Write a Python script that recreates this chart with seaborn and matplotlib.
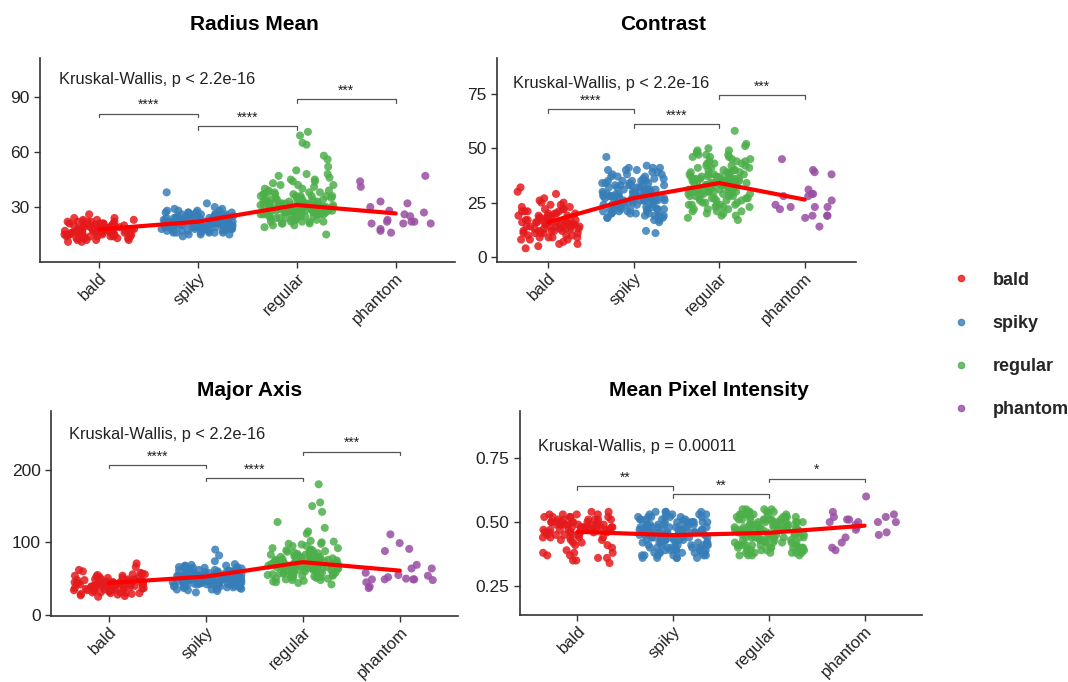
import numpy as np
import pandas as pd
import matplotlib
matplotlib.use("Agg")
import matplotlib.pyplot as plt
from matplotlib.lines import Line2D
import seaborn as sns

groups = ["bald", "spiky", "regular", "phantom"]
colors = ["#E41A1C", "#377EB8", "#4DAF4A", "#984EA3"]

# ---- Radius Mean ----
bald_radius = [17, 15, 19, 21, 13, 18, 16, 22, 14, 20, 17, 12, 19, 23, 16, 18, 15, 21, 11, 17,
               20, 14, 18, 24, 16, 19, 13, 17, 22, 15, 18, 20, 12, 16, 19, 21, 14, 17, 26, 15,
               18, 23, 16, 13, 20, 17, 19, 14, 22, 16, 18, 12, 21, 15, 17, 20, 24, 13, 19, 16,
               14, 19, 22, 17, 12, 20, 15, 18, 23, 13, 21, 16, 19, 14, 18, 22, 11, 17, 20, 15,
               16, 21, 13, 18, 19, 15, 22, 17, 14, 20]
spiky_radius = [21, 19, 23, 25, 17, 22, 20, 27, 18, 24, 21, 16, 26, 22, 19, 23, 20, 28, 15, 21,
                24, 18, 22, 29, 20, 23, 17, 21, 25, 19, 22, 26, 16, 20, 23, 24, 18, 21, 38, 19,
                22, 27, 20, 17, 24, 21, 23, 18, 25, 20, 22, 14, 26, 19, 21, 24, 30, 17, 23, 20,
                22, 19, 25, 21, 18, 23, 20, 27, 16, 22, 24, 19, 21, 26, 20, 23, 18, 22, 25, 21,
                20, 24, 17, 22, 26, 19, 21, 15, 23, 28, 18, 25, 21, 20, 24, 16, 22, 27, 19, 23,
                21, 18, 25, 20, 29, 17, 23, 22, 26, 19, 24, 21, 16, 28, 20, 22, 25, 18, 32, 23,
                19, 22, 26, 21, 17, 24, 20, 27, 18, 23, 25, 16, 21, 28, 19, 22, 24, 20, 26, 15]
regular_radius = [30, 27, 34, 38, 24, 31, 28, 42, 22, 36, 29, 25, 33, 45, 26, 32, 28, 40, 21, 30,
                  35, 23, 31, 48, 27, 34, 20, 29, 37, 26, 32, 44, 22, 28, 33, 39, 25, 30, 52, 24,
                  31, 36, 27, 19, 34, 29, 41, 23, 35, 28, 32, 15, 38, 26, 30, 47, 56, 22, 33, 29,
                  31, 27, 43, 30, 25, 34, 28, 50, 21, 32, 36, 26, 64, 65, 71, 69, 29, 58, 37, 31,
                  29, 33, 26, 38, 24, 31, 35, 28, 42, 22, 30, 36, 27, 33, 45, 25, 32, 29, 39, 23,
                  34, 28, 31, 37, 21, 30, 26, 44, 33, 27, 36, 29, 24, 40, 31, 35, 22, 28, 46, 32,
                  27, 31, 38, 25, 33, 30, 20, 36, 28, 42, 26, 34, 29, 48, 23, 31, 37, 27, 32, 30]
phantom_radius = [41, 32, 21, 21, 26, 25, 18, 17, 22, 23, 30, 47, 44, 27, 33, 22, 21, 16, 22, 28]
line_radius = [17.8, 22, 31.1, 26.5]

# ---- Contrast ----
bald_contrast = [15, 12, 18, 21, 9, 16, 13, 24, 8, 19, 14, 6, 17, 22, 11, 15, 10, 26, 7, 14,
                 20, 12, 16, 29, 13, 18, 5, 15, 23, 11, 17, 21, 9, 14, 19, 25, 12, 16, 32, 10,
                 15, 20, 13, 6, 18, 14, 22, 9, 17, 13, 16, 4, 24, 11, 15, 19, 30, 8, 17, 14,
                 13, 18, 22, 11, 16, 20, 8, 15, 25, 12, 17, 14, 21, 10, 19, 16, 27, 13, 18, 15,
                 11, 20, 14, 17, 23, 9, 16, 19, 12, 21]
spiky_contrast = [27, 23, 31, 35, 19, 28, 25, 38, 21, 33, 26, 17, 30, 41, 22, 29, 24, 36, 18, 27,
                  32, 20, 28, 40, 25, 31, 16, 26, 34, 22, 29, 37, 19, 24, 30, 42, 21, 27, 46, 23,
                  28, 33, 25, 12, 31, 26, 39, 20, 32, 24, 29, 11, 35, 22, 27, 38, 41, 19, 30, 26,
                  28, 23, 34, 27, 21, 31, 25, 37, 18, 29, 33, 22, 27, 40, 24, 30, 20, 28, 35, 26,
                  26, 30, 22, 35, 28, 19, 33, 25, 39, 24, 31, 27, 20, 36, 29, 23, 32, 26, 41, 21,
                  28, 24, 34, 30, 18, 27, 37, 25, 31, 22, 29, 40, 26, 33, 20, 28, 35, 23, 30, 27,
                  25, 32, 21, 29, 36, 26, 19, 31, 24, 38, 27, 23, 34, 28, 17, 30, 25, 33, 22, 29]
regular_contrast = [33, 29, 37, 42, 24, 34, 31, 46, 22, 39, 32, 20, 36, 48, 27, 35, 30, 44, 21, 33,
                    40, 25, 34, 50, 28, 38, 19, 32, 43, 26, 35, 47, 23, 30, 37, 45, 24, 33, 52, 27,
                    34, 41, 29, 18, 38, 31, 49, 22, 36, 30, 35, 17, 44, 26, 33, 46, 58, 23, 37, 32,
                    34, 28, 42, 33, 25, 39, 31, 51, 21, 35, 40, 27, 33, 47, 29, 38, 24, 36, 43, 32,
                    32, 37, 28, 43, 34, 24, 39, 31, 47, 29, 36, 33, 22, 41, 35, 27, 38, 30, 49, 26,
                    34, 29, 40, 36, 21, 33, 45, 30, 37, 25, 35, 48, 31, 39, 23, 34, 42, 28, 36, 32,
                    30, 38, 24, 35, 44, 31, 20, 37, 29, 46, 33, 26, 41, 34, 19, 36, 30, 40, 27, 35]
phantom_contrast = [45, 38, 28, 23, 19, 19, 22, 31, 29, 26, 24, 18, 14, 23, 23, 39, 40, 29, 28, 19]
line_contrast = [16, 27.1, 34, 26.4]

# ---- Major Axis ----
bald_major = [42, 37, 46, 51, 31, 43, 39, 55, 29, 48, 41, 27, 45, 53, 35, 44, 38, 58, 30, 42,
              49, 34, 43, 62, 38, 47, 26, 41, 52, 36, 44, 50, 32, 39, 46, 56, 33, 42, 71, 35,
              43, 48, 38, 28, 46, 40, 54, 31, 45, 39, 44, 25, 57, 36, 42, 49, 66, 30, 45, 40,
              40, 47, 33, 44, 52, 37, 42, 29, 49, 38, 45, 35, 54, 41, 31, 46, 39, 60, 36, 43,
              34, 48, 41, 37, 51, 30, 44, 39, 56, 42]
spiky_major = [52, 47, 57, 62, 41, 53, 49, 67, 39, 59, 51, 36, 55, 65, 44, 54, 48, 70, 38, 52,
               60, 42, 53, 68, 47, 57, 34, 51, 63, 45, 54, 66, 40, 49, 56, 64, 43, 52, 90, 46,
               53, 58, 48, 31, 57, 50, 66, 41, 55, 49, 54, 35, 62, 45, 52, 61, 82, 39, 56, 50,
               53, 47, 60, 52, 43, 57, 49, 74, 37, 54, 58, 45, 51, 65, 48, 56, 42, 53, 61, 50,
               51, 56, 44, 60, 49, 38, 58, 47, 64, 42, 54, 50, 36, 61, 53, 45, 57, 48, 68, 40,
               53, 46, 62, 55, 37, 51, 65, 44, 57, 41, 52, 69, 48, 59, 39, 54, 63, 46, 56, 50,
               49, 58, 41, 53, 66, 47, 35, 55, 45, 61, 52, 43, 59, 50, 33, 56, 48, 62, 42, 54]
regular_major = [70, 63, 76, 84, 55, 71, 66, 92, 52, 80, 68, 48, 74, 97, 59, 72, 64, 88, 50, 70,
                 82, 56, 71, 102, 62, 77, 46, 68, 86, 58, 73, 95, 53, 65, 75, 90, 55, 70, 128, 60,
                 72, 81, 64, 44, 78, 67, 100, 52, 76, 65, 73, 42, 89, 58, 70, 98, 120, 51, 75, 67,
                 71, 62, 85, 70, 57, 79, 66, 115, 49, 73, 83, 60, 155, 142, 180, 150, 69, 112, 87, 71,
                 69, 77, 58, 85, 66, 53, 80, 63, 95, 56, 73, 68, 48, 88, 71, 60, 78, 65, 101, 54,
                 72, 62, 83, 75, 50, 68, 92, 61, 79, 55, 70, 98, 64, 81, 52, 74, 87, 59, 76, 67,
                 66, 79, 54, 73, 90, 63, 47, 77, 60, 86, 69, 57, 84, 71, 45, 76, 65, 82, 58, 74]
phantom_major = [91, 88, 99, 111, 49, 54, 39, 55, 69, 49, 52, 64, 49, 50, 49, 64, 37, 48, 58, 45]
line_major = [44, 52.9, 72.7, 61]

# ---- Mean Pixel Intensity ----
bald_mpi = [0.47, 0.45, 0.49, 0.51, 0.42, 0.48, 0.46, 0.53, 0.40, 0.50, 0.47, 0.38, 0.49, 0.52, 0.44,
            0.48, 0.46, 0.54, 0.36, 0.47, 0.50, 0.43, 0.48, 0.51, 0.45, 0.49, 0.35, 0.47, 0.52, 0.44,
            0.48, 0.50, 0.39, 0.46, 0.49, 0.53, 0.41, 0.47, 0.54, 0.43, 0.48, 0.50, 0.45, 0.37, 0.49,
            0.46, 0.52, 0.38, 0.48, 0.46, 0.49, 0.34, 0.51, 0.44, 0.47, 0.50, 0.53, 0.36, 0.48, 0.46,
            0.48, 0.51, 0.44, 0.49, 0.53, 0.46, 0.50, 0.42, 0.47, 0.52, 0.45, 0.49, 0.38, 0.48, 0.51,
            0.43, 0.47, 0.50, 0.35, 0.46, 0.49, 0.44, 0.52, 0.47, 0.41, 0.50, 0.48, 0.37, 0.51, 0.45]
spiky_mpi = [0.45, 0.42, 0.48, 0.51, 0.39, 0.46, 0.43, 0.53, 0.37, 0.49, 0.44, 0.36, 0.47, 0.52, 0.40,
             0.46, 0.42, 0.54, 0.38, 0.45, 0.50, 0.39, 0.46, 0.52, 0.41, 0.48, 0.36, 0.44, 0.51, 0.40,
             0.47, 0.50, 0.37, 0.43, 0.48, 0.53, 0.38, 0.45, 0.54, 0.41, 0.46, 0.49, 0.42, 0.36, 0.48,
             0.44, 0.52, 0.38, 0.47, 0.43, 0.46, 0.37, 0.50, 0.40, 0.45, 0.49, 0.53, 0.39, 0.47, 0.44,
             0.46, 0.41, 0.50, 0.45, 0.39, 0.48, 0.43, 0.52, 0.37, 0.46, 0.49, 0.40, 0.44, 0.51, 0.42,
             0.47, 0.38, 0.45, 0.50, 0.43, 0.44, 0.49, 0.40, 0.47, 0.52, 0.38, 0.46, 0.42, 0.51, 0.37,
             0.45, 0.48, 0.41, 0.53, 0.43, 0.39, 0.50, 0.44, 0.54, 0.36, 0.47, 0.41, 0.50, 0.45, 0.38,
             0.48, 0.43, 0.52, 0.40, 0.46, 0.49, 0.37, 0.44, 0.51, 0.42, 0.47, 0.39, 0.53, 0.45, 0.41,
             0.43, 0.48, 0.39, 0.46, 0.51, 0.42, 0.49, 0.36, 0.45, 0.50, 0.40, 0.47, 0.44, 0.52, 0.38,
             0.46, 0.49, 0.41, 0.54, 0.43]
regular_mpi = [0.46, 0.43, 0.49, 0.52, 0.40, 0.47, 0.44, 0.54, 0.38, 0.50, 0.45, 0.37, 0.48, 0.53, 0.41,
               0.47, 0.43, 0.55, 0.39, 0.46, 0.51, 0.40, 0.47, 0.53, 0.42, 0.49, 0.38, 0.45, 0.52, 0.41,
               0.48, 0.51, 0.38, 0.44, 0.49, 0.54, 0.39, 0.46, 0.55, 0.42, 0.47, 0.50, 0.43, 0.37, 0.49,
               0.45, 0.53, 0.39, 0.48, 0.44, 0.47, 0.38, 0.51, 0.41, 0.46, 0.50, 0.54, 0.40, 0.48, 0.45,
               0.47, 0.42, 0.51, 0.46, 0.40, 0.49, 0.44, 0.53, 0.38, 0.47, 0.50, 0.41, 0.45, 0.52, 0.43,
               0.48, 0.39, 0.46, 0.51, 0.44, 0.45, 0.50, 0.41, 0.48, 0.53, 0.39, 0.47, 0.43, 0.52, 0.38,
               0.46, 0.49, 0.42, 0.54, 0.44, 0.40, 0.51, 0.45, 0.55, 0.37, 0.48, 0.42, 0.51, 0.46, 0.39,
               0.49, 0.44, 0.53, 0.41, 0.47, 0.50, 0.38, 0.45, 0.52, 0.43, 0.48, 0.40, 0.54, 0.46, 0.42,
               0.44, 0.49, 0.40, 0.47, 0.52, 0.43, 0.50, 0.37, 0.46, 0.51, 0.41, 0.48, 0.45, 0.53, 0.39,
               0.47, 0.50, 0.42, 0.55, 0.44]
phantom_mpi = [0.60, 0.52, 0.50, 0.50, 0.51, 0.48, 0.50, 0.52, 0.53, 0.54, 0.46, 0.47, 0.45, 0.44, 0.42,
               0.39, 0.50, 0.49, 0.40, 0.51]
line_mpi = [0.462, 0.449, 0.458, 0.486]

panels = [
    dict(title="Radius Mean", values=[bald_radius, spiky_radius, regular_radius, phantom_radius],
         line=line_radius, kw="Kruskal-Wallis, p < 2.2e-16", kw_y=99.8,
         brackets=[81, 74, 89], stars=["****", "****", "***"],
         yticks=[30, 60, 90], yticklabels=["30", "60", "90"], ylim=(0, 111.3)),
    dict(title="Contrast", values=[bald_contrast, spiky_contrast, regular_contrast, phantom_contrast],
         line=line_contrast, kw="Kruskal-Wallis, p < 2.2e-16", kw_y=79.8,
         brackets=[68, 61, 74.5], stars=["****", "****", "***"],
         yticks=[0, 25, 50, 75], yticklabels=["0", "25", "50", "75"], ylim=(-2.3, 91.5)),
    dict(title="Major Axis", values=[bald_major, spiky_major, regular_major, phantom_major],
         line=line_major, kw="Kruskal-Wallis, p < 2.2e-16", kw_y=248,
         brackets=[207, 189, 225], stars=["****", "****", "***"],
         yticks=[0, 100, 200], yticklabels=["0", "100", "200"], ylim=(-1.5, 281)),
    dict(title="Mean Pixel Intensity", values=[bald_mpi, spiky_mpi, regular_mpi, phantom_mpi],
         line=line_mpi, kw="Kruskal-Wallis, p = 0.00011", kw_y=0.797,
         brackets=[0.64, 0.61, 0.67], stars=["**", "**", "*"],
         yticks=[0.25, 0.50, 0.75], yticklabels=["0.25", "0.50", "0.75"], ylim=(0.137, 0.934)),
]

# pixel boxes (left, top, right, bottom) and title centres
W, H = 1068, 682
boxes = [(40, 58, 455, 262), (497, 58, 856, 262), (51, 411, 458, 616), (520, 411, 922, 615)]
title_pos = [(254, 24), (663, 24), (250, 390), (709, 390)]

sns.set_theme(style="ticks")
plt.rcParams["font.family"] = ["Liberation Sans", "DejaVu Sans"]
np.random.seed(3)

fig = plt.figure(figsize=(W / 100, H / 100), dpi=100)
fig.patch.set_facecolor("white")

for p, (l, t, r, b), (tx, ty) in zip(panels, boxes, title_pos):
    ax = fig.add_axes([l / W, 1 - b / H, (r - l) / W, (b - t) / H])
    df = pd.DataFrame({
        "group": np.concatenate([[g] * len(v) for g, v in zip(groups, p["values"])]),
        "value": np.concatenate(p["values"]),
    })
    sns.stripplot(data=df, x="group", y="value", hue="group", order=groups, hue_order=groups,
                  palette=colors, jitter=0.37, size=5.8, alpha=0.85, linewidth=0,
                  legend=False, ax=ax, zorder=1)
    sns.pointplot(x=groups, y=p["line"], order=groups, color="#FF0000", errorbar=None,
                  markers="", linewidth=3, ax=ax)

    yr = p["ylim"][1] - p["ylim"][0]
    pairs = [(0, 1), (1, 2), (2, 3)]
    for (a, c), yb, s in zip(pairs, p["brackets"], p["stars"]):
        tick = 0.018 * yr
        ax.plot([a, a, c, c], [yb - tick, yb, yb, yb - tick], color="#555555", lw=0.9, zorder=3)
        ax.annotate(s, xy=((a + c) / 2, yb), xytext=(0, 1), textcoords="offset points",
                    ha="center", va="bottom", fontsize=10, color="#222222")

    ax.text(-0.41, p["kw_y"], p["kw"], ha="left", va="center", fontsize=11.8, color="#222222")

    ax.set_xlim(-0.6, 3.6)
    ax.set_ylim(*p["ylim"])
    ax.set_yticks(p["yticks"])
    ax.set_yticklabels(p["yticklabels"])
    ax.set_xlabel("")
    ax.set_ylabel("")
    ax.set_xticks(range(len(groups)))
    ax.set_xticklabels(groups, rotation=45, ha="right", rotation_mode="anchor")
    ax.tick_params(axis="y", labelsize=12.5)
    ax.tick_params(axis="x", labelsize=12, pad=2)
    ax.tick_params(axis="both", labelcolor="#222222", color="#333333",
                   length=4, width=1, direction="out")
    sns.despine(ax=ax)
    for sp in ["left", "bottom"]:
        ax.spines[sp].set_color("#333333")
        ax.spines[sp].set_linewidth(1.2)
    ax.set_facecolor("white")

    fig.text(tx / W, 1 - ty / H, p["title"], ha="center", va="center",
             fontsize=15, fontweight="bold", color="black")

handles = [Line2D([0], [0], marker="o", linestyle="", markersize=4.5, color=c, alpha=0.8)
           for c in colors]
leg = fig.legend(handles, groups, loc="center left", bbox_to_anchor=(952 / W, 1 - 345 / H),
                 frameon=False, handlelength=1.0, handletextpad=1.25, labelspacing=1.45,
                 borderpad=0, borderaxespad=0, prop={"weight": "bold", "size": 13})

fig.savefig("out.png", dpi=100, facecolor="white")
